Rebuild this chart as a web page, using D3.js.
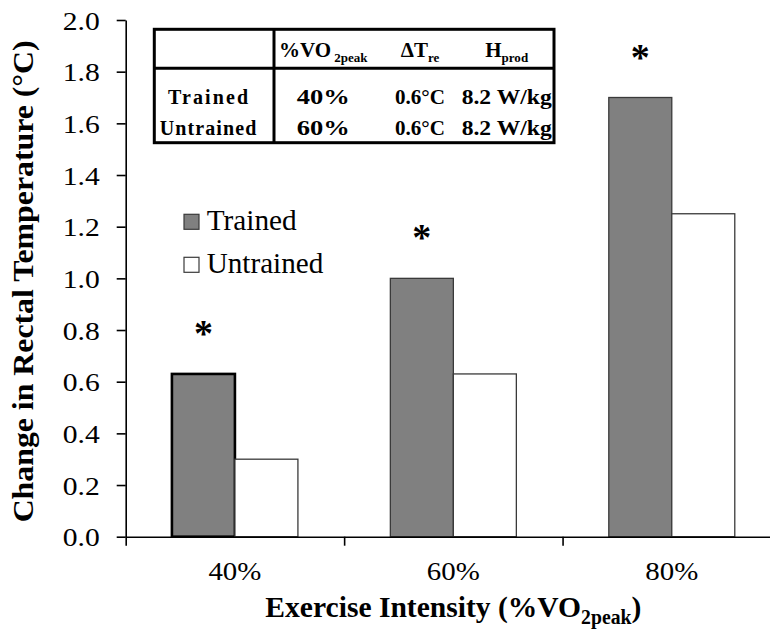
<!DOCTYPE html>
<html>
<head>
<meta charset="utf-8">
<script src="https://cdn.jsdelivr.net/npm/d3@7"></script>
<style>
  html, body { margin: 0; padding: 0; background: #fff; }
  svg { display: block; }
  text { font-family: "Liberation Serif", "Times New Roman", serif; fill: #000; }
</style>
</head>
<body>
<svg id="chart" width="770" height="629"></svg>
<script>
// Change in rectal temperature by exercise intensity
const categories = ["40%", "60%", "80%"];
const seriesNames = ["Trained", "Untrained"];
const trainedValues = [0.63, 1.00, 1.70];
const untrainedValues = [0.30, 0.63, 1.25];
const significant = [true, true, true];
const yTickValues = [0, 0.2, 0.4, 0.6, 0.8, 1.0, 1.2, 1.4, 1.6, 1.8, 2.0];

// Inset summary table
const tableRowLabels = ["Trained", "Untrained"];
const tableIntensity = ["40%", "60%"];
const tableDeltaT = ["0.6°C", "0.6°C"];
const tableHeatProd = ["8.2 W/kg", "8.2 W/kg"];

const svg = d3.select("#chart");
const FONT = '"Liberation Serif", "Times New Roman", serif';

const x0 = 125.7, x1 = 781, yTop = 20, yBase = 536.7;

const x = d3.scaleBand().domain(categories).range([x0, x1]).paddingInner(0).paddingOuter(0);
const barW = 63;
const xs = d3.scaleBand().domain(seriesNames)
  .range([(x.bandwidth() - 2 * barW) / 2, (x.bandwidth() + 2 * barW) / 2]);
const y = d3.scaleLinear().domain([0, 2]).range([yBase, yTop]);

const rows = categories.map((c, i) => ({
  cat: c,
  vals: [
    { s: "Trained", v: trainedValues[i], i },
    { s: "Untrained", v: untrainedValues[i], i }
  ],
  sig: significant[i]
}));

// Bars
const groups = svg.append("g").selectAll("g").data(rows).join("g")
  .attr("transform", d => `translate(${x(d.cat)},0)`);

groups.selectAll("rect").data(d => d.vals).join("rect")
  .attr("x", d => xs(d.s))
  .attr("y", d => y(d.v))
  .attr("width", xs.bandwidth())
  .attr("height", d => y(0) - y(d.v))
  .attr("fill", d => d.s === "Trained" ? "#808080" : "#ffffff")
  .attr("stroke", d => (d.s === "Trained" && d.i === 0) ? "#000" : "#3a3a3a")
  .attr("stroke-width", d => (d.s === "Trained" && d.i === 0) ? 2.6 : 1.3);

// Significance markers above trained bars
groups.filter(d => d.sig).append("text")
  .attr("x", xs("Trained") + xs.bandwidth() / 2)
  .attr("y", d => y(d.vals[0].v) - 45 + 17)
  .attr("text-anchor", "middle")
  .style("font-size", "38px")
  .style("font-weight", "bold")
  .text("*");

// X axis: boundary ticks
const xb = d3.scaleLinear().domain([0, categories.length]).range([x0, x1]);
const gx = svg.append("g").attr("transform", `translate(0,${yBase})`)
  .call(d3.axisBottom(xb).tickValues(d3.range(categories.length + 1)).tickFormat("").tickSize(9).tickSizeOuter(0));
gx.select(".domain").attr("stroke", "#000").attr("stroke-width", 1.6);
gx.selectAll(".tick line").attr("stroke", "#000").attr("stroke-width", 1.6);

// X category labels
const gxl = svg.append("g").attr("transform", `translate(0,${yBase})`)
  .call(d3.axisBottom(x).tickSize(0).tickPadding(0));
gxl.select(".domain").remove();
gxl.selectAll(".tick text")
  .attr("y", 43).attr("dy", null)
  .style("font-family", FONT).style("font-size", "25px").attr("fill", "#000")
  .attr("textLength", 53).attr("lengthAdjust", "spacingAndGlyphs");

// Y axis
const gy = svg.append("g").attr("transform", `translate(${x0},0)`)
  .call(d3.axisLeft(y).tickValues(yTickValues).tickFormat(d3.format(".1f")).tickSize(9).tickSizeOuter(0).tickPadding(17));
gy.select(".domain").attr("stroke", "#000").attr("stroke-width", 1.6);
gy.selectAll(".tick line").attr("stroke", "#000").attr("stroke-width", 1.6);
gy.selectAll(".tick text")
  .style("font-family", FONT).style("font-size", "26px").attr("fill", "#000")
  .attr("dy", "0.35em")
  .attr("textLength", 37).attr("lengthAdjust", "spacingAndGlyphs");

// Axis titles
const xTitle = svg.append("text")
  .attr("x", (x0 + x1) / 2).attr("y", 617)
  .attr("text-anchor", "middle")
  .style("font-size", "30px").style("font-weight", "bold")
  .attr("textLength", 376).attr("lengthAdjust", "spacingAndGlyphs");
xTitle.append("tspan").text("Exercise Intensity (%VO");
xTitle.append("tspan").attr("dy", 7).style("font-size", "20px").text("2peak");
xTitle.append("tspan").attr("dy", -7).text(")");

svg.append("text")
  .attr("transform", `translate(32.5,${(yTop + yBase) / 2 + 3}) rotate(-90)`)
  .attr("text-anchor", "middle")
  .style("font-size", "28.5px").style("font-weight", "bold")
  .attr("textLength", 482).attr("lengthAdjust", "spacingAndGlyphs")
  .text("Change in Rectal Temperature (°C)");

// Legend
const legend = svg.append("g");
seriesNames.forEach((s, i) => {
  const ly = 214.3 + i * 43;
  legend.append("rect")
    .attr("x", 184).attr("y", ly).attr("width", 15).attr("height", 15)
    .attr("fill", s === "Trained" ? "#808080" : "#fff")
    .attr("stroke", "#3a3a3a").attr("stroke-width", 1.2);
  legend.append("text")
    .attr("x", 206.7).attr("y", ly + 15.8)
    .style("font-size", "30px")
    .attr("textLength", s === "Trained" ? 90 : 116.6).attr("lengthAdjust", "spacingAndGlyphs")
    .text(s);
});

// Inset table
const tb = svg.append("g");
const tL = 154.3, tR = 554, tT = 29.3, tB = 142.7, tDivX = 274, tDivY = 68.3;
tb.append("rect").attr("x", tL).attr("y", tT).attr("width", tR - tL).attr("height", tB - tT)
  .attr("fill", "#fff").attr("stroke", "#000").attr("stroke-width", 3);
tb.append("line").attr("x1", tDivX).attr("x2", tDivX).attr("y1", tT).attr("y2", tB)
  .attr("stroke", "#000").attr("stroke-width", 3);
tb.append("line").attr("x1", tL).attr("x2", tR).attr("y1", tDivY).attr("y2", tDivY)
  .attr("stroke", "#000").attr("stroke-width", 3);

const colX = [208, 323.3, 420, 506.7];
const rowY = [104.3, 135];

function cell(cx, cy, w, parts, size, adjust) {
  const t = tb.append("text").attr("x", cx).attr("y", cy)
    .attr("text-anchor", "middle")
    .style("font-size", size + "px").style("font-weight", "bold");
  if (w) t.attr("textLength", w).attr("lengthAdjust", adjust || "spacing");
  parts.forEach(p => {
    const sp = t.append("tspan").text(p.t);
    if (p.sub) sp.attr("dy", 5).style("font-size", (size * 0.62) + "px");
  });
  return t;
}

// Header row (natural widths so subscripts keep clear of their base letters)
cell(colX[1], 57.3, null, [{ t: "%VO" }, { t: " 2peak", sub: true }], 21);
cell(colX[2], 57.3, null, [{ t: "ΔT" }, { t: "re", sub: true }], 21);
cell(colX[3], 57.3, null, [{ t: "H" }, { t: "prod", sub: true }], 21);

// Body rows
tableRowLabels.forEach((r, i) => {
  cell(colX[0], rowY[i], r === "Trained" ? 80 : 96.7, [{ t: r }], 20, "spacing");
  cell(colX[1], rowY[i], 53, [{ t: tableIntensity[i] }], 21, "spacingAndGlyphs");
  cell(colX[2], rowY[i], 50, [{ t: tableDeltaT[i] }], 21, "spacingAndGlyphs");
  cell(colX[3], rowY[i], 90, [{ t: tableHeatProd[i] }], 21, "spacingAndGlyphs");
});
</script>
</body>
</html>
